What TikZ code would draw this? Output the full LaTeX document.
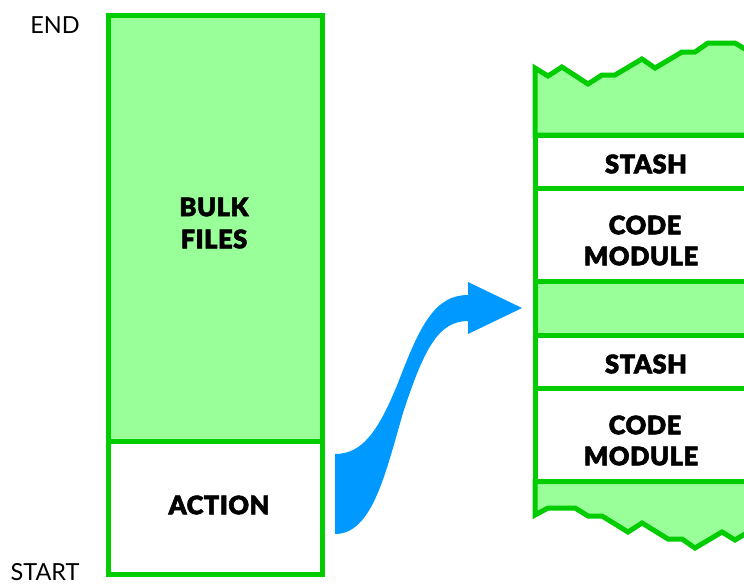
\documentclass[tikz,border=0pt]{standalone}
\usepackage{fontspec}
\setmainfont{Lato}
\newfontfamily\heavyfont[LetterSpace=2,FakeBold=2]{Lato Black}
\definecolor{linegreen}{HTML}{00CC00}
\definecolor{lightgreen}{HTML}{99FF99}
\definecolor{arrowblue}{HTML}{0099FF}
\tikzset{
  part/.style={draw=linegreen, line width=5pt, line join=miter},
  bold label/.style={black, font=\heavyfont\fontsize{25.5}{25.5}\selectfont, inner sep=0pt},
  side label/.style={black, font=\fontsize{23.5}{23.5}\selectfont, inner sep=0pt}
}
\begin{document}
\begin{tikzpicture}[x=1pt,y=-1pt]
\useasboundingbox (0,0) rectangle (744,584);
\clip (0,0) rectangle (744,584);
% left column
\draw[part,fill=lightgreen] (108.5,15) -- (322,15) -- (322,441) -- (108.5,441) -- cycle;
\draw[part,fill=white] (108.5,441) -- (322,441) -- (322,574) -- (108.5,574) -- cycle;
\node[side label] (endlabel) at (55,25) {END};
\node[side label] (startlabel) at (45,572) {START};
\node[bold label] (bulk) at (214,207) {BULK};
\node[bold label] (files) at (214,239) {FILES};
\node[bold label] (action) at (219,505) {ACTION};
% arrow
\fill[arrowblue] (335,454) .. controls (362,454) and (378,432) .. (398,383)
  .. controls (420,325) and (435,295) .. (468,295) -- (468,282) -- (522,308) -- (468,334) -- (468,321)
  .. controls (440,321) and (425,345) .. (403,413)
  .. controls (385,475) and (372,534) .. (335,534) -- cycle;
% right column, top and bottom edges are torn
\draw[part,fill=lightgreen] (535,135) -- (535,68) -- (548,76) -- (562,67) -- (588,84) -- (602,75) -- (615,75)
  -- (642,59) -- (655,68) -- (682,52) -- (695,52) -- (708,43) -- (735,43) -- (750,52) -- (750,135) -- cycle;
\draw[part,fill=white] (535,135) -- (750,135) -- (750,281.5) -- (535,281.5) -- cycle;
\draw[part] (535,188) -- (750,188);
\draw[part,fill=lightgreen] (535,281.5) -- (750,281.5) -- (750,335) -- (535,335) -- cycle;
\draw[part,fill=white] (535,335) -- (750,335) -- (750,481.5) -- (535,481.5) -- cycle;
\draw[part] (535,388) -- (750,388);
\draw[part,fill=lightgreen] (535,481.5) -- (535,515) -- (548,508) -- (575,508) -- (588,516) -- (602,516) -- (628,532)
  -- (642,523) -- (668,539) -- (682,539) -- (695,548) -- (722,532) -- (735,540) -- (750,531) -- (750,481.5) -- cycle;
\node[bold label] (stashone) at (646,164) {STASH};
\node[bold label] (codeone) at (645,225) {CODE};
\node[bold label] (moduleone) at (641,256) {MODULE};
\node[bold label] (stashtwo) at (646,364) {STASH};
\node[bold label] (codetwo) at (645,425) {CODE};
\node[bold label] (moduletwo) at (641,456) {MODULE};
\end{tikzpicture}
\end{document}
